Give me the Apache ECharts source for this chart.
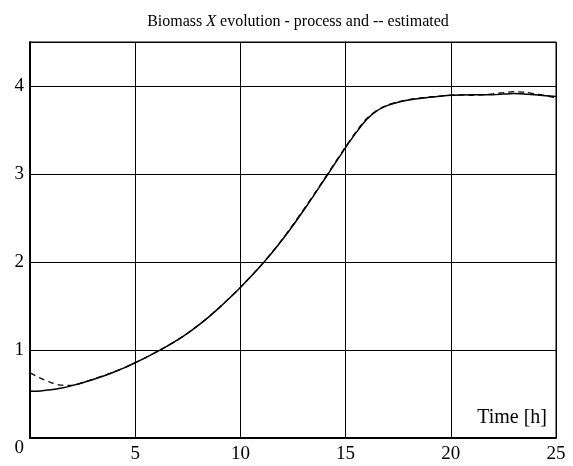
<!DOCTYPE html>
<html>
<head>
<meta charset="utf-8">
<script src="https://cdn.jsdelivr.net/npm/echarts@6/dist/echarts.min.js"></script>
<style>
  html, body { margin: 0; padding: 0; background: #fff; }
  #chart { width: 573px; height: 466px; }
</style>
</head>
<body>
<div id="chart"></div>
<script>
// time [h], sampled every 0.5 h
var time = [0, 0.5, 1, 1.5, 2, 2.5, 3, 3.5, 4, 4.5, 5, 5.5, 6, 6.5, 7, 7.5, 8, 8.5, 9, 9.5,
  10, 10.5, 11, 11.5, 12, 12.5, 13, 13.5, 14, 14.5, 15, 15.5, 16, 16.5, 17, 17.5, 18, 18.5, 19, 19.5,
  20, 20.5, 21, 21.5, 22, 22.5, 23, 23.5, 24, 24.5, 25];
// biomass - process (solid)
var processX = [0.53, 0.535, 0.547, 0.567, 0.595, 0.628, 0.665, 0.705, 0.75, 0.80, 0.855, 0.913, 0.975, 1.041, 1.111, 1.191, 1.279, 1.376, 1.481, 1.593,
  1.711, 1.835, 1.965, 2.105, 2.255, 2.415, 2.585, 2.76, 2.94, 3.12, 3.30, 3.47, 3.62, 3.72, 3.78, 3.815, 3.84, 3.858, 3.872, 3.884,
  3.894, 3.898, 3.90, 3.90, 3.90, 3.908, 3.915, 3.91, 3.90, 3.89, 3.88];
// biomass - estimated (dashed)
var estimatedX = [0.74, 0.68, 0.63, 0.60, 0.597, 0.63, 0.668, 0.708, 0.752, 0.80, 0.857, 0.915, 0.978, 1.043, 1.113, 1.194, 1.282, 1.378, 1.484, 1.596,
  1.713, 1.838, 1.968, 2.11, 2.26, 2.425, 2.595, 2.77, 2.95, 3.13, 3.31, 3.48, 3.63, 3.725, 3.785, 3.82, 3.845, 3.862, 3.875, 3.886,
  3.896, 3.90, 3.895, 3.90, 3.91, 3.925, 3.935, 3.93, 3.91, 3.89, 3.865];

var xTicks = [0, 25, 5];     // min, max, interval
var yTicks = [0, 4.5, 1];

function pairs(xs, ys) {
  var out = [];
  for (var i = 0; i < xs.length; i++) {
    out.push([xs[i], ys[i]]);
  }
  return out;
}

var font = 'Liberation Serif';
var myChart = echarts.init(document.getElementById('chart'), null, {renderer: 'canvas'});
var option = {
  animation: false,
  backgroundColor: '#fff',
  title: {
    text: '{n|Biomass }{i|X}{n| evolution - process and -- estimated}',
    left: 293,
    textAlign: 'center',
    top: 9,
    textStyle: {
      fontWeight: 'normal',
      rich: {
        n: {fontFamily: font, fontSize: 16, fontWeight: 'normal', color: '#000'},
        i: {fontFamily: font, fontSize: 16, fontWeight: 'normal', fontStyle: 'italic', color: '#000'}
      }
    }
  },
  grid: {
    left: 30, right: 17, top: 42, bottom: 28,
    show: true,
    borderColor: '#000',
    borderWidth: 1
  },
  xAxis: {
    type: 'value',
    min: xTicks[0], max: xTicks[1], interval: xTicks[2],
    name: 'Time [h]',
    nameLocation: 'end',
    nameGap: -9,
    nameTextStyle: {
      fontFamily: font, fontSize: 20, color: '#000',
      align: 'right', verticalAlign: 'bottom', padding: [0, 0, 10, 0]
    },
    axisLine: {lineStyle: {color: '#000', width: 2}},
    axisTick: {show: false},
    axisLabel: {
      showMinLabel: false,
      margin: 7,
      fontFamily: font, fontSize: 19, color: '#000'
    },
    splitLine: {lineStyle: {color: '#000', width: 1}}
  },
  yAxis: {
    type: 'value',
    min: yTicks[0], max: yTicks[1], interval: yTicks[2],
    axisLine: {show: true, lineStyle: {color: '#000', width: 2}},
    axisTick: {show: false},
    axisLabel: {
      showMaxLabel: false,
      margin: 6,
      fontFamily: font, fontSize: 19, color: '#000',
      formatter: function (v) {
        if (v === 0) return '{z|0}';
        return String(v);
      },
      rich: {
        z: {fontFamily: font, fontSize: 19, color: '#000', padding: [20, 0, 0, 0]}
      }
    },
    splitLine: {lineStyle: {color: '#000', width: 1}}
  },
  series: [
    {
      name: 'process',
      type: 'line',
      data: pairs(time, processX),
      smooth: 0.3,
      symbol: 'none',
      lineStyle: {color: '#000', width: 1.5}
    },
    {
      name: 'estimated',
      type: 'line',
      data: pairs(time, estimatedX),
      smooth: 0.3,
      symbol: 'none',
      lineStyle: {color: '#000', width: 1.3, type: [6, 4]}
    }
  ]
};
myChart.setOption(option);
</script>
</body>
</html>
